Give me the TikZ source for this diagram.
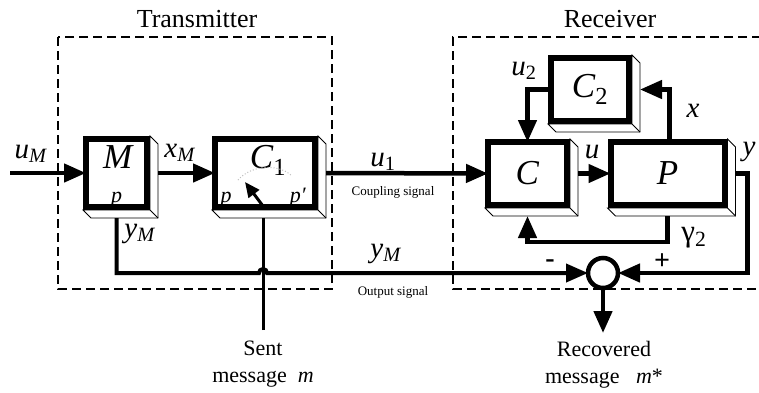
\documentclass[tikz,border=0pt]{standalone}
\usepackage{fontspec}
\setmainfont{Liberation Serif}[ItalicFont={Liberation Serif Italic}, BoldFont={Liberation Serif Bold}]
\usetikzlibrary{arrows.meta, positioning}

\newcommand{\sig}[2]{\textit{#1}\textsubscript{#2}}
% white 3D side of a block
\newcommand{\slab}[1]{%
  \draw[face] ([shift={(3,-3)}]#1.north east) -- ++(8,8) -- ([shift={(11,11)}]#1.south east)
    -- ([shift={(5,11)}]#1.south west) -- ([shift={(-3,3)}]#1.south west)
    -- ([shift={(3,3)}]#1.south east) -- cycle;
  \draw[face] ([shift={(3,3)}]#1.south east) -- ++(8,8);}

\begin{document}
\begin{tikzpicture}[x=1pt, y=-1pt,
  block/.style={draw, line width=6pt, fill=white, outer sep=0pt, inner sep=0pt},
  face/.style={draw, line width=0.8pt, fill=white},
  wire/.style={line width=4.5pt},
  flow/.style={wire, -{Triangle[length=22pt, width=18pt]}},
  frame/.style={line width=1.5pt, dash pattern=on 9pt off 5pt},
  lbl/.style={inner sep=0pt, font=\fontsize{29}{30}\selectfont},
  big/.style={inner sep=0pt, font=\fontsize{35}{38}\selectfont},
  pin/.style={inner sep=0pt, font=\fontsize{22}{24}\selectfont},
  small/.style={inner sep=0pt, font=\fontsize{13}{15}\selectfont},
  txt/.style={inner sep=0pt, font=\fontsize{22}{27}\selectfont, align=center}]

\useasboundingbox (0,0) rectangle (759,392);

% frames
\draw[frame] (58,37) rectangle (332,289);
\draw[frame] (775,37) -- (453,37) -- (453,289) -- (775,289);
\node[inner sep=0pt, font=\fontsize{26}{30}\selectfont, anchor=base] (tx) at (197,27) {Transmitter};
\node[inner sep=0pt, font=\fontsize{26}{30}\selectfont, anchor=base] (rx) at (610,27) {Receiver};

% blocks
\node[block, minimum width=61pt, minimum height=68pt] (M) at (116.5,173) {};
\node[block, minimum width=100pt, minimum height=68pt, right=68pt of M] (C1) {};
\node[block, big, minimum width=79pt, minimum height=63pt] (C) at (527.5,173.5) {\textit{C}};
\node[block, big, minimum width=114pt, minimum height=63pt, right=43.5pt of C] (P) {\textit{P}};
\node[block, big, minimum width=78pt, minimum height=63pt] (C2) at (590,89.5) {\sig{C}{2}};
\slab{M} \slab{C1} \slab{C} \slab{P} \slab{C2}

\node[big, anchor=base] (Mname) at ([xshift=2pt, yshift=5pt]M.center) {\textit{M}};
\node[pin, anchor=base] (Mp) at ([yshift=-29pt]M.center) {\textit{p}};
\node[big, anchor=base] (C1name) at ([xshift=3pt, yshift=5pt]C1.center) {\sig{C}{1}};
\node[pin, anchor=base] (C1p) at ([xshift=-39pt, yshift=-29pt]C1.center) {\textit{p}};
\node[pin, anchor=base] (C1q) at ([xshift=33pt, yshift=-29pt]C1.center) {\textit{p′}};
\draw[gray!50, dotted, line width=1pt] (238,180) .. controls (252,164) and (280,164) .. (292,176);

\node[draw, circle, line width=4.5pt, fill=white, minimum size=30pt, inner sep=0pt, outer sep=0pt] (sum) at (603,273) {};

\coordinate (uin) at (10,173);
\coordinate (sent) at (263,330);
\coordinate (dial) at (263,206);
\coordinate (jump) at (259,273);
\coordinate (out) at (603,333);

% signals
\draw[flow] (uin) -- (M.west);
\draw[flow] ([xshift=11pt]M.east) -- (C1.west);
\draw[flow] ([xshift=11pt]C1.east) -- (C.west);
\draw[flow] ([xshift=11pt]C.east) -- (P.west);
\draw[flow] (C2.west) -| (C.north);
\draw[flow] ([xshift=2pt]P.north) |- ([xshift=11pt]C2.east);
\draw[flow] ([yshift=-11pt]P.south) -- ++(0,26) -| ([yshift=-11pt]C.south);
\draw[flow] ([xshift=11pt]P.east) -- ++(12,0) |- (sum.east);
\draw[line width=3pt] (sent) -- ++(0,-112);
\draw[line width=3pt, -{Triangle[length=15pt, width=13pt]}] (dial) -- ++(-18,-24);
\draw[flow, line width=4pt] ([yshift=-11pt]M.south) |- (jump) arc[start angle=180, end angle=360, radius=4] -- (sum.west);
\draw[flow] (sum.south) -- (out);

% labels
\node[lbl, anchor=base] (luM) at (31,158) {\sig{u}{\textit{M}}};
\node[lbl, anchor=base] (lxM) at (180,157) {\sig{x}{\textit{M}}};
\node[lbl, anchor=base] (lu1) at (383,166) {\sig{u}{1}};
\node[small, anchor=base] (lcpl) at (393,195) {Coupling signal};
\node[lbl, anchor=base] (lu) at (592,158) {\textit{u}};
\node[lbl, anchor=base] (ly) at (749,155) {\textit{y}};
\node[lbl, anchor=base] (lu2) at (524,75) {\sig{u}{2}};
\node[lbl, anchor=base] (lx) at (693,117) {\textit{x}};
\node[inner sep=0pt, font=\fontsize{31}{32}\selectfont, anchor=base] (lg) at (694,241) {γ\textsubscript{2}};
\node[inner sep=0pt, font=\bfseries\fontsize{28}{30}\selectfont] (lneg) at (550,264) {-};
\node[inner sep=0pt, font=\bfseries\fontsize{28}{30}\selectfont] (lpos) at (662,262) {+};
\node[lbl, anchor=base] (lyM) at (140,237) {\sig{y}{\textit{M}}};
\node[lbl, anchor=base] (lyM2) at (386,257) {\sig{y}{\textit{M}}};
\node[small, anchor=base] (lout) at (393,295) {Output signal};
\node[txt] (lsent) at (263,364) {Sent\\message~~\textit{m}};
\node[txt] (lrec) at (604,365) {Recovered\\message~~~\textit{m}*};

\end{tikzpicture}
\end{document}
